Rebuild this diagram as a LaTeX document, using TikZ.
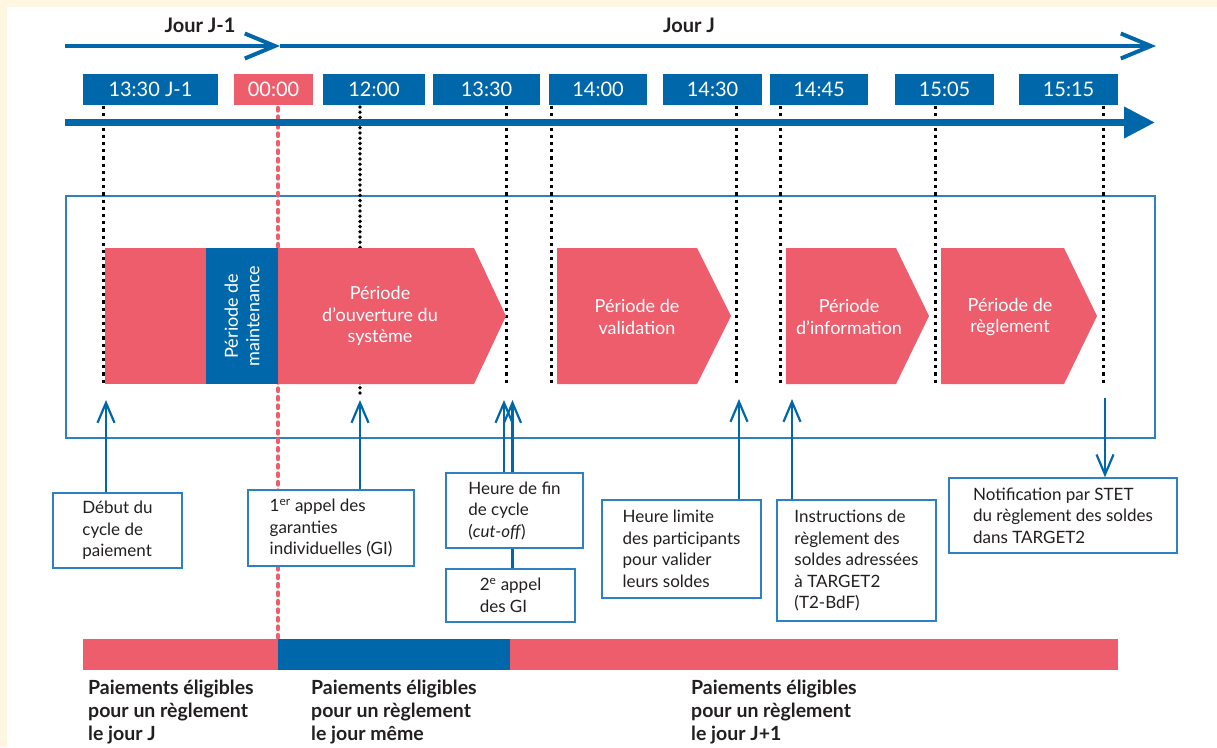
\documentclass[tikz,border=0pt]{standalone}
\usepackage{fontspec}
\setmainfont{Lato}
\usetikzlibrary{arrows.meta}

\definecolor{bleu}{RGB}{0,104,170}
\definecolor{rose}{RGB}{238,93,108}
\definecolor{cadre}{RGB}{47,128,192}
\definecolor{creme}{RGB}{255,246,225}
\definecolor{encre}{RGB}{35,31,32}

% une periode en forme de fleche : debut, fin du plat, pointe
\newcommand{\periode}[3]{\fill[rose] (#1,248) -- (#2,248) -- (#3,316) -- (#2,384) -- (#1,384) -- cycle;}

\begin{document}
\begin{tikzpicture}[x=1pt, y=-1pt,
   heure/.style={fill=bleu, text=white, minimum height=31pt, inner sep=0pt, font=\fontsize{20}{20}\selectfont},
   repere/.style={black, line width=3pt, dash pattern=on 3.2pt off 4pt},
   fleche/.style={bleu, line width=2.2pt, -{Straight Barb[length=20pt, width=17pt]}},
   etiquette/.style={draw=cadre, line width=1.4pt, fill=white, text=encre, align=left, inner sep=3pt, font=\fontsize{17}{21.5}\selectfont},
   phase/.style={text=white, align=center, font=\fontsize{18}{21.5}\selectfont},
   legende/.style={anchor=north west, inner sep=0pt, align=left, text=encre, font=\bfseries\fontsize{19.5}{23}\selectfont}]

% fond
\fill[creme] (0,0) rectangle (1217,747);
\fill[white] (7,7) rectangle (1217,747);
\useasboundingbox (0,0) rectangle (1217,747);

% cadre des periodes
\draw[cadre, line width=1.4pt] (66,196) rectangle (1155,438);

% reperes pointilles
\foreach \x in {103,506,551,736,780,935,1103}
  \draw[repere] (\x,106) -- (\x,384);
\draw[black, line width=3.8pt, line cap=round, dash pattern=on 0pt off 5.2pt] (360,107) -- (360,398);
\draw[rose, line width=4.4pt, line cap=round, dash pattern=on 2.5pt off 6pt] (278,108) -- (278,638);

% axes du temps
\coordinate (j0) at (65,46);
\coordinate (j1) at (280,46);
\coordinate (j2) at (1156,46);
\draw[bleu, line width=4pt, -{Straight Barb[length=30pt, width=25pt]}] (j0) -- (j1);
\draw[bleu, line width=4pt, -{Straight Barb[length=30pt, width=25pt]}] (j1) -- (j2);
\node[font=\bfseries\fontsize{20}{20}\selectfont, text=encre] (jveille) at (200,25) {Jour J-1};
\node[font=\bfseries\fontsize{20}{20}\selectfont, text=encre] (jour) at (689,25) {Jour J};

\coordinate (t0) at (65,122.5);
\coordinate (t1) at (1155,122.5);
\draw[bleu, line width=7pt, -{Triangle[length=31pt, width=30pt]}] (t0) -- (t1);

% heures
\foreach \x/\w/\t/\n in {150.5/135/13:30 J-1/h1, 374/102/12:00/h3, 486.5/107/13:30/h4,
    598/98/14:00/h5, 712.5/99/14:30/h6, 819/98/14:45/h7, 944.5/99/15:05/h8, 1068.5/99/15:15/h9}
  \node[heure, minimum width=\w pt] (\n) at (\x,89) {\t};
\node[heure, fill=rose, minimum width=79pt] (h2) at (273.5,89) {00:00};

% periodes
\fill[rose] (105,248) rectangle (206,384);
\fill[bleu] (206,248) rectangle (278,384);
\periode{278}{474}{506}
\periode{557}{697}{731}
\periode{786}{896}{929}
\periode{941}{1064}{1097}
\node[phase, rotate=90] (maint) at (242,316) {Période de\\maintenance};
\node[phase] (ouvert) at (380,316) {Période\\d’ouverture du\\système};
\node[phase] (valid) at (637,317) {Période de\\validation};
\node[phase] (info) at (849,317) {Période\\d’information};
\node[phase] (regl) at (1010,317) {Période de\\règlement};

% evenements
\coordinate (a1) at (106,400);
\coordinate (a2) at (360,400);
\coordinate (a3) at (504,400);
\coordinate (a4) at (512.5,400);
\coordinate (a5) at (739,399);
\coordinate (a6) at (792,399);
\coordinate (a7) at (1105,398);

\node[etiquette, minimum width=129pt, minimum height=75pt] (debut) at (117.5,530.5) {Début du\\cycle de\\paiement};
\node[etiquette, minimum width=166pt, minimum height=76pt] (appel1) at (331,528) {1\textsuperscript{er} appel des\\garanties\\individuelles (GI)};
\draw[fleche] (appel1.north -| a2) -- (a2);
\draw[fleche] (debut.north -| a1) -- (a1);
\node[etiquette, minimum width=129pt, minimum height=53pt] (appel2) at (510.5,595.5) {2\textsuperscript{e} appel\\des GI};
\draw[fleche] (appel2.north -| a4) -- (a4);
\node[etiquette, minimum width=137pt, minimum height=75pt] (cutoff) at (514.5,510.5) {Heure de fin\\de cycle\\(\textit{cut-off})};
\draw[fleche] (cutoff.north -| a3) -- (a3);
\node[etiquette, minimum width=159pt, minimum height=98pt] (limite) at (681.5,549) {Heure limite\\des participants\\pour valider\\leurs soldes};
\draw[fleche] (limite.north -| a5) -- (a5);
\node[etiquette, minimum width=159pt, minimum height=121pt] (instr) at (856.5,560.5) {Instructions de\\règlement des\\soldes adressées\\à TARGET2\\(T2-BdF)};
\draw[fleche] (instr.north -| a6) -- (a6);
\node[etiquette, minimum width=228pt, minimum height=75pt] (notif) at (1063,515.5) {Notification par STET\\du règlement des soldes\\dans TARGET2};
\draw[fleche] (a7) -- (notif.north -| a7);

% eligibilite des paiements
\fill[rose] (83,639) rectangle (278,670);
\fill[bleu] (278,639) rectangle (510,670);
\fill[rose] (510,639) rectangle (1118,670);
\node[legende] (eligJ) at (88,680) {Paiements éligibles\\pour un règlement\\le jour J};
\node[legende] (eligM) at (311,680) {Paiements éligibles\\pour un règlement\\le jour même};
\node[legende] (eligJ1) at (691,680) {Paiements éligibles\\pour un règlement\\le jour J+1};

\end{tikzpicture}
\end{document}
